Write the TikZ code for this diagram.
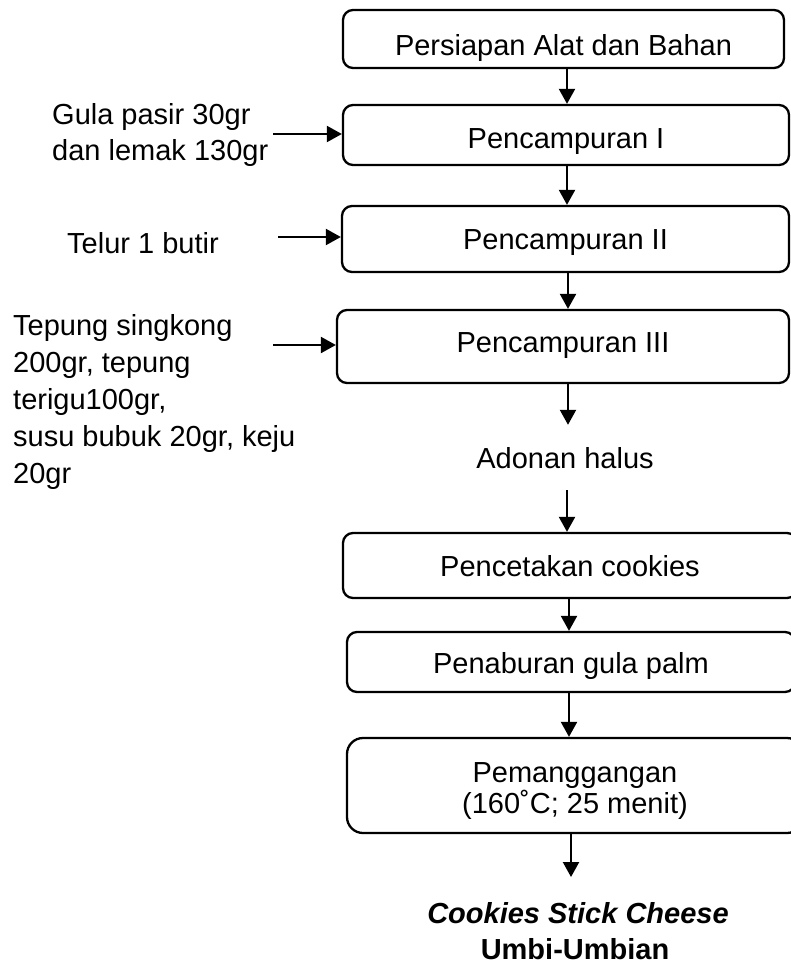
\documentclass[tikz,border=0pt]{standalone}
\usepackage{fontspec}
\setmainfont{Liberation Sans}
\usetikzlibrary{arrows.meta}
\begin{document}
\begin{tikzpicture}[x=1pt,y=-1pt,
  box/.style={draw, line width=2.3pt, rounded corners=10pt, inner sep=0pt},
  txt/.style={font=\fontsize{29}{36.5}\selectfont, inner sep=0pt, anchor=base},
  side/.style={txt, anchor=base west},
  arr/.style={line width=2.2pt, -{Triangle[length=15pt,width=16pt]}},
]
\useasboundingbox (0,0) rectangle (791,967);
\clip (0,0) rectangle (791,967);

% process boxes
\node[box, minimum width=441pt, minimum height=58pt] (b1) at (563.5,39) {};
\node[box, minimum width=446pt, minimum height=60pt] (b2) at (566,135) {};
\node[box, minimum width=447pt, minimum height=66pt] (b3) at (565.5,239) {};
\node[box, minimum width=452pt, minimum height=73pt] (b4) at (563,346.5) {};
\node[box, minimum width=454pt, minimum height=65pt] (b5) at (570,565.5) {};
\node[box, minimum width=448pt, minimum height=60pt] (b6) at (571,662) {};
\node[box, minimum width=456pt, minimum height=95pt, rounded corners=16pt] (b7) at (575,785.5) {};

% box labels
\node[txt] (t1) at (563.5,55) {Persiapan Alat dan Bahan};
\node[txt] (t2) at (566,148) {Pencampuran I};
\node[txt] (t3) at (565.5,249) {Pencampuran II};
\node[txt] (t4) at (563,352) {Pencampuran III};
\node[txt] (t5) at (570,576) {Pencetakan cookies};
\node[txt] (t6) at (571,673) {Penaburan gula palm};
\node[txt] (t7a) at (575,782) {Pemanggangan};
\node[txt] (t7b) at (575,813) {(160˚C; 25 menit)};

% intermediate product
\node[txt, inner ysep=22pt] (ad) at (565,468) {Adonan halus};

% final product
\node[txt, font=\fontsize{29}{36.5}\selectfont\bfseries\itshape] (f1) at (578,923) {Cookies Stick Cheese};
\node[txt, font=\fontsize{29}{36.5}\selectfont\bfseries] (f2) at (575,959) {Umbi-Umbian};
\coordinate (tip) at (571,877);

% ingredient inputs
\node[side] (g1) at (52,124) {Gula pasir 30gr};
\node[side] (g2) at (52,160) {dan lemak 130gr};
\node[side] (tl) at (67,253) {Telur 1 butir};
\node[side] (p1) at (13,335) {Tepung singkong};
\node[side] (p2) at (13,372) {200gr, tepung};
\node[side] (p3) at (13,409) {terigu100gr,};
\node[side] (p4) at (13,446) {susu bubuk 20gr, keju};
\node[side] (p5) at (13,483) {20gr};

\coordinate (s1) at (273,134);
\coordinate (s2) at (278,237);
\coordinate (s3) at (273,345);

% input arrows
\draw[arr] (s1) -- (s1 -| b2.west);
\draw[arr] (s2) -- (s2 -| b3.west);
\draw[arr] (s3) -- (s3 -| b4.west);

% flow arrows
\draw[arr] ([xshift=3.5pt]b1.south) -- ([xshift=1pt]b2.north);
\draw[arr] ([xshift=1pt]b2.south) -- ([xshift=1.5pt]b3.north);
\draw[arr] ([xshift=2.5pt]b3.south) -- ([xshift=5pt]b4.north);
\draw[arr] ([xshift=5pt]b4.south) -- ([xshift=3pt]ad.north);
\draw[arr] ([xshift=2pt]ad.south) -- ([xshift=-3pt]b5.north);
\draw[arr] ([xshift=-1pt]b5.south) -- ([xshift=-2pt]b6.north);
\draw[arr] ([xshift=-2pt]b6.south) -- ([xshift=-6pt]b7.north);
\draw[arr] ([xshift=-4pt]b7.south) -- (tip);
\end{tikzpicture}
\end{document}
